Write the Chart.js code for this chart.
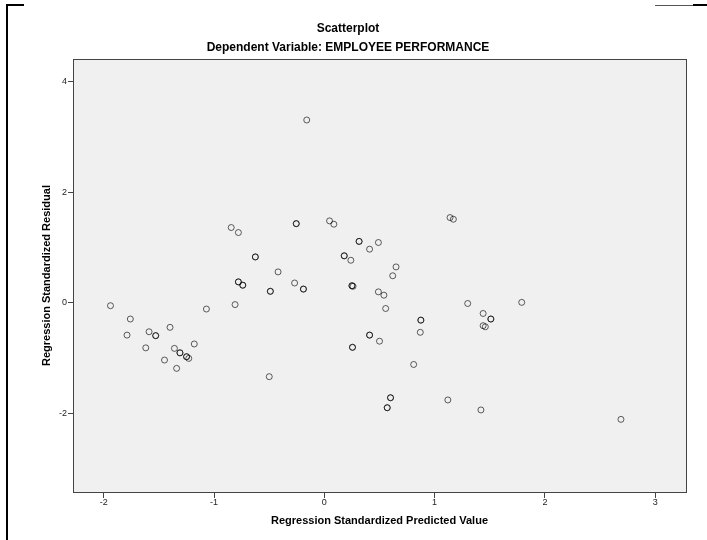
<!DOCTYPE html>
<html>
<head>
<meta charset="utf-8">
<script src="https://cdn.jsdelivr.net/npm/chart.js@4.4.1/dist/chart.umd.min.js"></script>
<style>
  html, body { margin: 0; padding: 0; background: #ffffff; }
  #wrap { position: relative; width: 707px; height: 540px; }
  canvas { position: absolute; left: 0; top: 0; }
  .ln { position: absolute; background: #000; }
</style>
</head>
<body>
<div id="wrap">
  <canvas id="c" width="707" height="540"></canvas>
  <div class="ln" style="left:6px;top:4px;width:2px;height:536px;"></div>
  <div class="ln" style="left:6px;top:4px;width:18px;height:2px;"></div>
  <div class="ln" style="left:655px;top:5px;width:38px;height:1px;background:#555;"></div>
  <div class="ln" style="left:693px;top:4px;width:14px;height:2px;"></div>
</div>
<script>
// Regression standardized predicted values (x) and residuals (y)
const predictedValues = [
  -1.94, -1.76, -1.79, -1.59, -1.53, -1.53, -1.40, -1.62, -1.36, -1.31, -1.31,
  -1.25, -1.25, -1.23, -1.18, -1.45, -1.34, -1.07, -0.81, -0.845, -0.78,
  -0.626, -0.626, -0.78, -0.78, -0.74, -0.74, -0.49, -0.49, -0.50, -0.42,
  -0.27, -0.19, -0.19, -0.255, -0.255, -0.16, 0.047, 0.086, 0.315, 0.315,
  0.49, 0.41, 0.18, 0.18, 0.24, 0.65, 0.62, 0.25, 0.26, 0.25, 0.49, 0.54,
  0.556, 1.14, 1.17, 1.30, 1.79, 1.44, 1.51, 1.51, 1.44, 1.46, 0.875, 0.875,
  0.87, 0.41, 0.41, 0.50, 0.255, 0.255, 0.81, 0.60, 0.60, 0.57, 0.57, 1.12,
  1.42, 2.69
];
const residualValues = [
  -0.05, -0.29, -0.58, -0.52, -0.59, -0.59, -0.44, -0.81, -0.82, -0.90, -0.90,
  -0.97, -0.97, -1.00, -0.74, -1.03, -1.18, -0.11, -0.03, 1.36, 1.27,
  0.83, 0.83, 0.38, 0.38, 0.32, 0.32, 0.21, 0.21, -1.33, 0.56,
  0.36, 0.25, 0.25, 1.43, 1.43, 3.30, 1.48, 1.42, 1.11, 1.11,
  1.09, 0.97, 0.85, 0.85, 0.77, 0.65, 0.49, 0.31, 0.30, 0.31, 0.20, 0.14,
  -0.10, 1.54, 1.51, -0.01, 0.01, -0.19, -0.29, -0.29, -0.41, -0.43, -0.31, -0.31,
  -0.53, -0.58, -0.58, -0.69, -0.80, -0.80, -1.11, -1.71, -1.71, -1.89, -1.89, -1.75,
  -1.93, -2.10
];
const xTickValues = [-2, -1, 0, 1, 2, 3];
const yTickValues = [-2, 0, 2, 4];
const chartTitle = 'Scatterplot';
const chartSubtitle = 'Dependent Variable: EMPLOYEE PERFORMANCE';
const xAxisTitle = 'Regression Standardized Predicted Value';
const yAxisTitle = 'Regression Standardized Residual';

const points = predictedValues.map((x, i) => ({ x: x, y: residualValues[i] }));

const FONT = 'Liberation Sans, Arial, sans-serif';

const plotBox = {
  id: 'plotBox',
  beforeDatasetsDraw(chart) {
    const a = chart.chartArea, ctx = chart.ctx;
    ctx.save();
    ctx.fillStyle = '#f0f0f0';
    ctx.fillRect(a.left, a.top, a.right - a.left, a.bottom - a.top);
    ctx.strokeStyle = '#444';
    ctx.lineWidth = 1;
    ctx.strokeRect(Math.round(a.left) + 0.5, Math.round(a.top) + 0.5,
                   Math.round(a.right - a.left), Math.round(a.bottom - a.top));
    ctx.restore();
  }
};

new Chart(document.getElementById('c'), {
  type: 'scatter',
  data: {
    datasets: [{
      data: points,
      pointRadius: 3,
      pointHoverRadius: 3,
      pointBorderWidth: 1,
      pointBorderColor: 'rgba(0,0,0,0.62)',
      pointBackgroundColor: 'rgba(0,0,0,0)'
    }]
  },
  options: {
    responsive: false,
    animation: false,
    events: [],
    layout: { padding: { left: 10, right: 21, top: 0, bottom: 4 } },
    plugins: {
      legend: { display: false },
      tooltip: { enabled: false },
      title: {
        display: true, text: chartTitle, color: '#000',
        font: { family: FONT, size: 12, weight: 'bold', lineHeight: 1.2 },
        padding: { top: 21.5, bottom: 2.3 }
      },
      subtitle: {
        display: true, text: chartSubtitle, color: '#000',
        font: { family: FONT, size: 12, weight: 'bold', lineHeight: 1.2 },
        padding: { top: 2.3, bottom: 4.1 }
      }
    },
    scales: {
      x: {
        type: 'linear', min: -2.28, max: 3.28,
        afterBuildTicks: (s) => { s.ticks = xTickValues.map(v => ({ value: v })); },
        grid: { drawOnChartArea: false, drawTicks: true, tickLength: 6, color: '#444' },
        border: { display: false },
        ticks: { color: '#222', padding: 0, maxRotation: 0,
                 font: { family: FONT, size: 9, lineHeight: 1 } },
        title: { display: true, text: xAxisTitle, color: '#000',
                 font: { family: FONT, size: 11, weight: 'bold', lineHeight: 1.2 },
                 padding: { top: 7.4, bottom: 8.4 } }
      },
      y: {
        type: 'linear', min: -3.41, max: 4.40,
        afterBuildTicks: (s) => { s.ticks = yTickValues.map(v => ({ value: v })); },
        grid: { drawOnChartArea: false, drawTicks: true, tickLength: 5, color: '#444' },
        border: { display: false },
        ticks: { color: '#222', padding: 1,
                 font: { family: FONT, size: 9, lineHeight: 1.2 } },
        title: { display: true, text: yAxisTitle, color: '#000',
                 font: { family: FONT, size: 11, weight: 'bold', lineHeight: 1.2 },
                 padding: { top: 30.4, bottom: 4.4 } }
      }
    }
  },
  plugins: [plotBox]
});
</script>
</body>
</html>
